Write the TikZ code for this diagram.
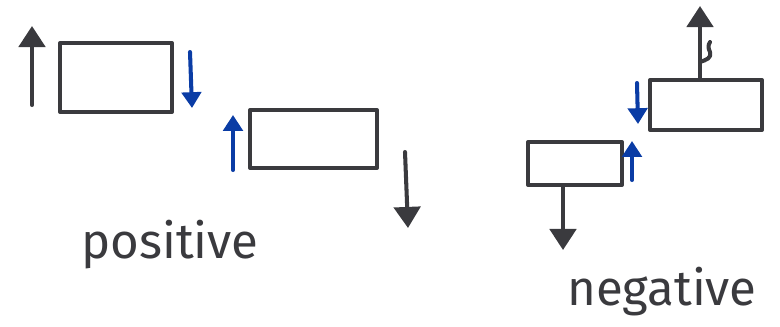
\documentclass[tikz,border=0pt]{standalone}
\usepackage{fontspec}
\setsansfont{Fira Sans}
\usetikzlibrary{arrows.meta}

\begin{document}
\begin{tikzpicture}[
    x=0.02cm, y=-0.02cm,
    every node/.style={font=\sffamily},
    line join=round,
    line cap=round
]

% Colors
\definecolor{pen}{RGB}{58,58,62}
\definecolor{bluepen}{RGB}{10,60,165}

\tikzset{
    slab/.style={draw=pen, line width=2.3pt, inner sep=0pt, fill=white},
    force/.style={draw=pen, line width=2.3pt, -{Triangle[width=15pt, length=12pt]}},
    react/.style={draw=bluepen, line width=2.3pt, -{Triangle[width=11pt, length=9pt]}},
    word/.style={text=pen, font=\sffamily\fontsize{28}{32}\selectfont, anchor=base}
}

\useasboundingbox (0,0) rectangle (780,326);

% ----------------------------------------------------
% positive: two slabs pulled apart
% ----------------------------------------------------
\node[slab, minimum width=2.24cm, minimum height=1.38cm] (posA) at (116,77.5) {};
\node[slab, minimum width=2.54cm, minimum height=1.16cm] (posB) at (313.5,139) {};

\coordinate (posA up1) at (32,105);
\coordinate (posA up2) at (32,26);
\coordinate (posA dn1) at (190,52);
\coordinate (posA dn2) at (192,108);
\coordinate (posB up1) at (233,170);
\coordinate (posB up2) at (233,115);
\coordinate (posB dn1) at (405,152);
\coordinate (posB dn2) at (408,228);

\draw[force] (posA up1) -- (posA up2);
\draw[react] (posA dn1) -- (posA dn2);
\draw[react] (posB up1) -- (posB up2);
\draw[force] (posB dn1) -- (posB dn2);

% ----------------------------------------------------
% negative: two slabs pushed together
% ----------------------------------------------------
\node[slab, minimum width=2.24cm, minimum height=1.0cm] (negC) at (706,105) {};
\node[slab, minimum width=1.88cm, minimum height=0.86cm] (negD) at (575,163.5) {};

\coordinate (negC top) at (700,6);
\coordinate (negD bot) at (563,250);
\coordinate (negC dn1) at (637,83);
\coordinate (negC dn2) at (638,124);
\coordinate (negD up1) at (632,180);
\coordinate (negD up2) at (632,141);

\draw[force] (negC.north -| negC top) -- (negC top);
\draw[force] (negD.south -| negD bot) -- (negD bot);
\draw[react] (negC dn1) -- (negC dn2);
\draw[react] (negD up1) -- (negD up2);

% little tick on the upper stem
\draw[pen, line width=2.3pt] (700,62) .. controls (706,60) and (712,58) .. (710,52)
    .. controls (708,48) and (708,45) .. (710,42);

% ----------------------------------------------------
% Labels
% ----------------------------------------------------
\node[word] (poslabel) at (170,258) {positive};
\node[word] (neglabel) at (662,305) {negative};

\end{tikzpicture}
\end{document}
